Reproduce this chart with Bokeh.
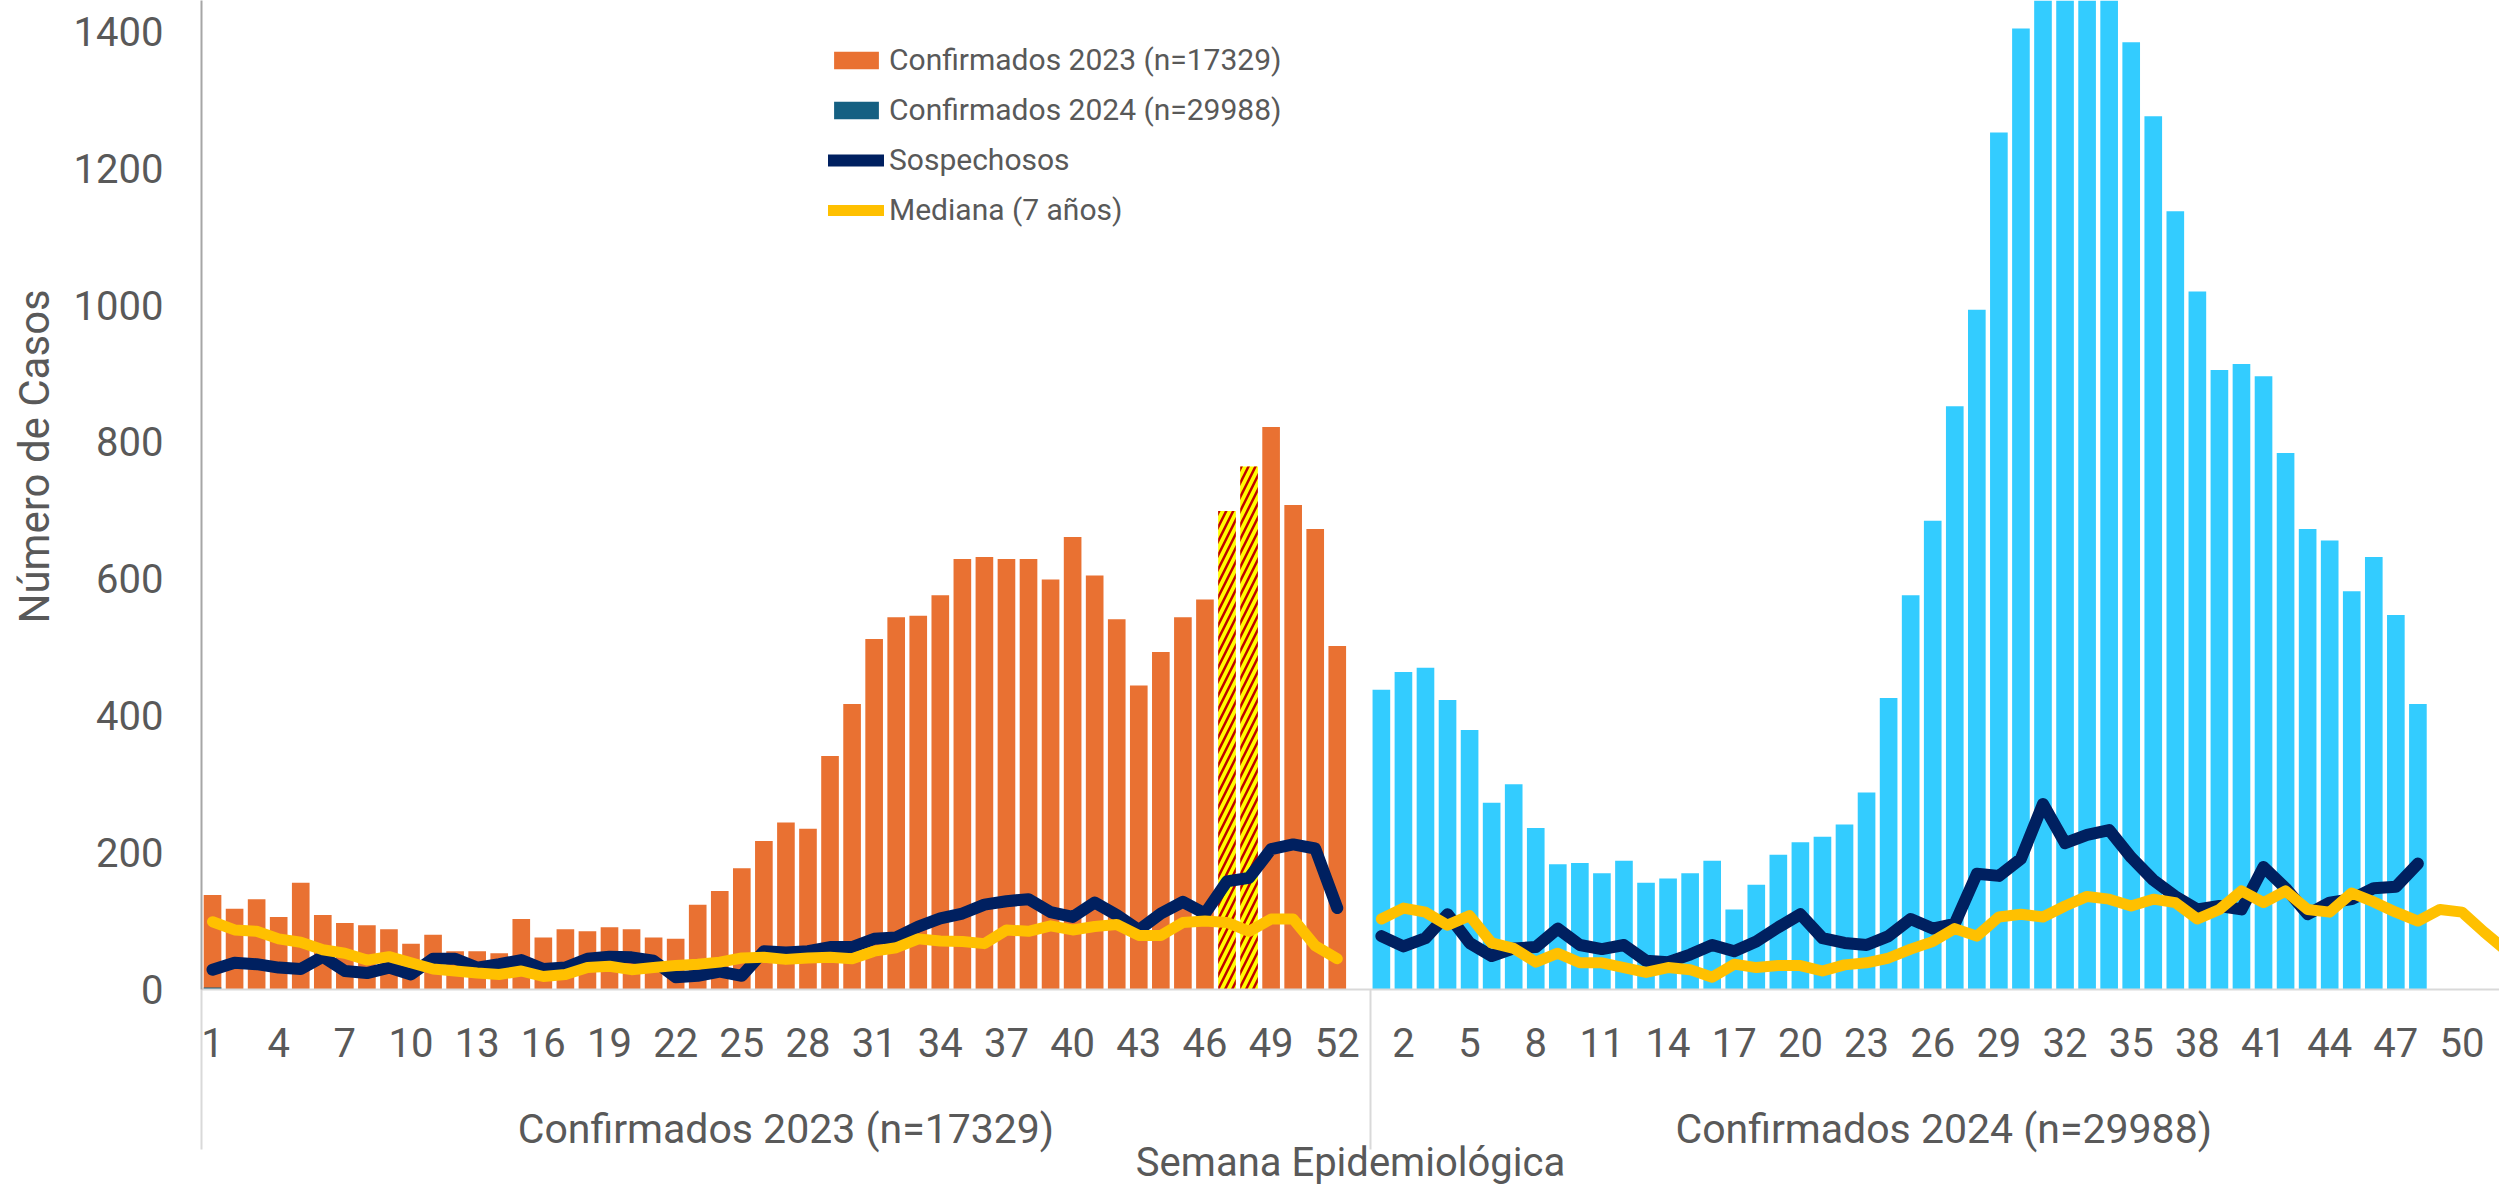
import numpy as np
from bokeh.plotting import figure
from bokeh.models import (Range1d, FixedTicker, LinearAxis, Legend, LegendItem, Title)
from bokeh.embed import file_html
from bokeh.resources import INLINE

# ---------------- data ----------------
weeks_2023 = list(range(1, 53))
weeks_2024_bars = list(range(1, 49))
weeks_2024_median = list(range(1, 53))
slots_2023 = 53  # 2023 group holds 53 week slots (week 53 empty)

conf_2023 = [138, 118, 132, 106, 156, 109, 97, 94, 88, 67,
             80, 56, 56, 53, 103, 76, 88, 85, 91, 88,
             76, 74, 124, 144, 177, 217, 244, 235, 341, 417,
             512, 544, 546, 576, 629, 632, 629, 629, 599, 661,
             605, 541, 444, 493, 544, 570, 699, 764, 822, 708,
             673, 502]
hatched_weeks_2023 = [47, 48]

conf_2024 = [438, 464, 470, 423, 379, 273, 300, 236, 183, 185,
             170, 188, 156, 162, 170, 188, 117, 153, 197, 215,
             223, 241, 288, 426, 576, 685, 852, 993, 1252, 1404,
             1480, 1530, 1510, 1470, 1384, 1276, 1137, 1020, 905, 914,
             896, 784, 673, 656, 582, 632, 547, 417]
conf_2024_stub_week = [1]
conf_2024_stub_value = [3]

sosp_2023 = [29, 39, 37, 32, 30, 48, 27, 24, 32, 22,
             45, 45, 32, 37, 43, 30, 32, 45, 48, 47,
             42, 18, 20, 26, 20, 56, 54, 56, 62, 62,
             74, 76, 92, 104, 111, 124, 129, 132, 113, 106,
             127, 109, 87, 111, 128, 111, 158, 163, 205, 212,
             206, 119]
sosp_2024 = [78, 63, 75, 110, 68, 49, 60, 62, 89, 65,
             59, 65, 42, 40, 51, 65, 56, 70, 91, 110,
             75, 68, 65, 78, 103, 89, 96, 169, 166, 191,
             271, 214, 226, 233, 193, 160, 136, 117, 122, 117,
             179, 148, 110, 127, 132, 148, 150, 184]

med_2023 = [99, 87, 85, 74, 69, 58, 53, 43, 48, 39,
            30, 27, 24, 22, 27, 19, 22, 32, 34, 29,
            32, 35, 37, 40, 46, 47, 44, 46, 47, 45,
            56, 61, 74, 71, 70, 67, 87, 85, 93, 87,
            92, 95, 79, 79, 98, 100, 98, 85, 103, 103,
            64, 45]
med_2024 = [103, 119, 113, 94, 108, 68, 60, 40, 53, 39,
            39, 32, 25, 32, 29, 18, 37, 32, 35, 35,
            27, 36, 39, 46, 59, 70, 89, 78, 106, 110,
            106, 122, 136, 132, 122, 132, 127, 103, 117, 144,
            127, 144, 117, 113, 141, 128, 113, 100, 117, 113,
            84, 57]

tick_weeks_2023 = list(range(1, 53, 3))
tick_weeks_2024 = list(range(2, 51, 3))
y_ticks = [0, 200, 400, 600, 800, 1000, 1200, 1400]
y_title = "Número de Casos"
x_title = "Semana Epidemiológica"
group_labels = ["Confirmados 2023 (n=17329)", "Confirmados 2024 (n=29988)"]
legend_labels = ["Confirmados 2023 (n=17329)", "Confirmados 2024 (n=29988)",
                 "Sospechosos", "Mediana (7 años)"]

# ---------------- styling ----------------
FONT = "Roboto"
TXT = "#595959"
ORANGE = "#E97132"
SKY = "#33CCFF"
TEAL = "#156082"
NAVY = "#002060"
GOLD = "#FFC000"

x23 = [w for w in weeks_2023]
x24 = [slots_2023 + w for w in weeks_2024_bars]
x24m = [slots_2023 + w for w in weeks_2024_median]

plain_x = [x for x, w in zip(x23, weeks_2023) if w not in hatched_weeks_2023]
plain_top = [v for v, w in zip(conf_2023, weeks_2023) if w not in hatched_weeks_2023]
hat_x = [x for x, w in zip(x23, weeks_2023) if w in hatched_weeks_2023]
hat_top = [v for v, w in zip(conf_2023, weeks_2023) if w in hatched_weeks_2023]

line_x_s = x23 + [slots_2023] + x24
line_y_s = sosp_2023 + [np.nan] + sosp_2024
line_x_m = x23 + [slots_2023] + x24m
line_y_m = med_2023 + [np.nan] + med_2024

p = figure(width=2499, height=1188, output_backend="svg", toolbar_location=None,
           x_range=Range1d(0.5, 104.7), y_range=Range1d(0, 1445),
           x_axis_location=None, y_axis_location=None,
           min_border_left=188, min_border_right=0, min_border_top=0,
           min_border_bottom=0)
p.outline_line_color = None
p.xgrid.visible = False
p.ygrid.visible = False
p.background_fill_color = "white"
p.border_fill_color = "white"

# y axis
yax = LinearAxis(ticker=FixedTicker(ticks=y_ticks))
yax.axis_line_color = "#A6A6A6"
yax.axis_line_width = 2
yax.major_tick_line_color = None
yax.minor_tick_line_color = None
yax.major_label_standoff = 32
yax.major_label_text_font = FONT
yax.major_label_text_font_size = "40px"
yax.major_label_text_color = TXT
p.add_layout(yax, "left")

# y title (outer left panel), placed along the axis like the reference
p.add_layout(Title(text=y_title, align="left", offset=366, vertical_align="top",
                   standoff=19, text_font=FONT, text_font_size="42px",
                   text_font_style="normal", text_color=TXT), "left")

# x axis (weeks) ; minor ticks draw the long group separators
tick_pos = [float(w) for w in tick_weeks_2023] + [float(slots_2023 + w) for w in tick_weeks_2024]
tick_txt = [str(w) for w in tick_weeks_2023] + [str(w) for w in tick_weeks_2024]
xa = LinearAxis(ticker=FixedTicker(ticks=tick_pos, minor_ticks=[0.5, slots_2023 + 0.5]))
xa.major_label_overrides = {t: s for t, s in zip(tick_pos, tick_txt)}
xa.axis_line_color = "#D9D9D9"
xa.axis_line_width = 2
xa.major_tick_line_color = None
xa.minor_tick_line_color = "#D9D9D9"
xa.minor_tick_line_width = 2
xa.minor_tick_in = 0
xa.minor_tick_out = 160
xa.major_label_standoff = 38 - 160
xa.major_label_text_font = FONT
xa.major_label_text_font_size = "40px"
xa.major_label_text_color = TXT
p.add_layout(xa, "below")

# x axis (groups)
gpos = [(0.5 + slots_2023 + 0.5) / 2, slots_2023 + 0.5 + len(weeks_2024_median) / 2]
xb = LinearAxis(ticker=FixedTicker(ticks=gpos, minor_ticks=[]))
xb.major_label_overrides = {t: s for t, s in zip(gpos, group_labels)}
xb.axis_line_color = None
xb.major_tick_line_color = None
xb.minor_tick_line_color = None
xb.major_label_standoff = 39
xb.major_label_text_font = FONT
xb.major_label_text_font_size = "41px"
xb.major_label_text_color = TXT
xb.axis_label = x_title
xb.axis_label_standoff = -17
xb.axis_label_text_font = FONT
xb.axis_label_text_font_size = "40px"
xb.axis_label_text_font_style = "normal"
xb.axis_label_text_color = TXT
p.add_layout(xb, "below")

# bars
r_o = p.vbar(x=plain_x, top=plain_top, width=0.8, fill_color=ORANGE, line_color=None)
p.vbar(x=hat_x, top=hat_top, width=0.8, fill_color="#FFFF00", line_color=None,
       hatch_pattern="/", hatch_color="#C00000", hatch_weight=2.5, hatch_scale=14)
p.vbar(x=x24, top=conf_2024, width=0.8, fill_color=SKY, line_color=None)
r_t = p.vbar(x=conf_2024_stub_week, top=conf_2024_stub_value, width=0.8,
             fill_color=TEAL, line_color=None)

# lines
r_s = p.line(line_x_s, line_y_s, line_color=NAVY, line_width=12, line_join="round", line_cap="round")
r_m = p.line(line_x_m, line_y_m, line_color=GOLD, line_width=11, line_join="round", line_cap="round")

leg = Legend(items=[LegendItem(label=legend_labels[0], renderers=[r_o]),
                    LegendItem(label=legend_labels[1], renderers=[r_t]),
                    LegendItem(label=legend_labels[2], renderers=[r_s]),
                    LegendItem(label=legend_labels[3], renderers=[r_m])],
             location=(627, 762))
leg.border_line_color = None
leg.background_fill_alpha = 0
leg.padding = 0
leg.margin = 0
leg.spacing = 15
leg.glyph_width = 56
leg.glyph_height = 22
leg.label_standoff = 5
leg.label_text_font = FONT
leg.label_text_font_size = "30px"
leg.label_text_color = TXT
p.add_layout(leg)

open("out.html", "w").write(file_html(p, INLINE))
